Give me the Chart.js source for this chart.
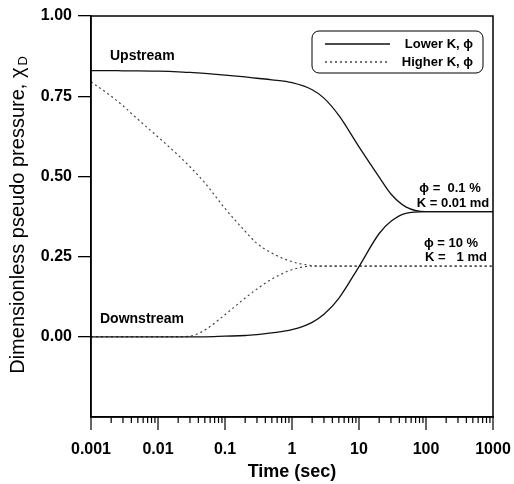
<!DOCTYPE html>
<html>
<head>
<meta charset="utf-8">
<script src="https://cdn.jsdelivr.net/npm/chart.js@4.4.1/dist/chart.umd.min.js"></script>
<style>
body{margin:0;background:#fff;}
#wrap{width:514px;height:484px;}
</style>
</head>
<body>
<div id="wrap"><canvas id="PresionChart" width="514" height="484"></canvas></div>
<script>
// tiempos (sec)
const tiempos = [0.001,0.002,0.003,0.005,0.01,0.02,0.03,0.05,0.1,0.2,0.3,0.5,1,2,3,5,10,20,30,50,100,200,500,1000];

// K y porosidad bajos (linea continua)
const arribaBajo = [0.83,0.83,0.829,0.829,0.828,0.826,0.824,0.821,0.816,0.81,0.806,0.801,0.792,0.77,0.744,0.69,0.592,0.498,0.445,0.405,0.39,0.39,0.39,0.39];
const abajoBajo  = [0,0,0,0,0,0,0,0,0.002,0.004,0.007,0.012,0.022,0.045,0.07,0.12,0.219,0.322,0.36,0.385,0.39,0.39,0.39,0.39];

// K y porosidad altos (linea punteada)
const arribaAlto = [0.795,0.75,0.72,0.678,0.623,0.566,0.53,0.48,0.40,0.329,0.291,0.261,0.234,0.222,0.22,0.22,0.22,0.22,0.22,0.22,0.22,0.22,0.22,0.22];
const abajoAlto  = [0,0,0,0,0,0,0.002,0.021,0.069,0.121,0.149,0.18,0.209,0.22,0.22,0.22,0.22,0.22,0.22,0.22,0.22,0.22,0.22,0.22];

const decadas = [0.001,0.01,0.1,1,10,100,1000];
const etiquetasX = ['0.001','0.01','0.1','1','10','100','1000'];
const marcasY = [0,0.25,0.5,0.75,1];

const fuente = "'Liberation Sans', Arial, sans-serif";

function puntos(xs, ys){
    return xs.map((x,i)=>({x:x, y:ys[i]}));
}

const lineaSolida = {borderColor:'#111', borderWidth:1.3, pointRadius:0, cubicInterpolationMode:'monotone', fill:false};
const lineaPuntos = {borderColor:'#444', borderWidth:1.2, borderDash:[2,3], pointRadius:0, cubicInterpolationMode:'monotone', fill:false};

const extras = {
    id:'extras',
    afterDraw(chart){
        const c = chart.ctx;
        const a = chart.chartArea;
        const sx = chart.scales.x;
        c.save();
        c.strokeStyle = '#000';
        c.lineWidth = 1.5;
        c.strokeRect(a.left, a.top, a.right-a.left, a.bottom-a.top);

        // marcas del eje x
        c.lineWidth = 1.2;
        c.beginPath();
        decadas.forEach((d,i)=>{
            const px = sx.getPixelForValue(d);
            c.moveTo(px, a.bottom); c.lineTo(px, a.bottom+13);
            if(i < decadas.length-1){
                for(let m=2;m<10;m++){
                    const p = sx.getPixelForValue(m*d);
                    c.moveTo(p, a.bottom); c.lineTo(p, a.bottom+6);
                }
            }
        });
        c.stroke();

        // leyenda
        c.lineWidth = 1;
        c.beginPath();
        c.roundRect(312, 31, 171, 42, 7);
        c.stroke();
        c.lineWidth = 1.3;
        c.strokeStyle = '#111';
        c.beginPath(); c.moveTo(325,44); c.lineTo(390,44); c.stroke();
        c.strokeStyle = '#444';
        c.setLineDash([2,3]);
        c.beginPath(); c.moveTo(325,62); c.lineTo(390,62); c.stroke();
        c.setLineDash([]);
        c.fillStyle = '#000';
        c.font = 'bold 13px ' + fuente;
        c.textAlign = 'right';
        c.textBaseline = 'middle';
        c.fillText('Lower K, \u03d5', 473, 44);
        c.fillText('Higher K, \u03d5', 473, 62);

        // textos
        c.textAlign = 'left';
        c.font = 'bold 14px ' + fuente;
        c.fillText('Upstream', 110, 56);
        c.fillText('Downstream', 100, 319);
        c.textAlign = 'center';
        c.font = 'bold 13px ' + fuente;
        c.fillText('\u03d5 =  0.1 %', 450, 188);
        c.fillText('K = 0.01 md', 453, 203);
        c.fillText('\u03d5 = 10 %', 451, 243);
        c.fillText('K =   1 md', 456, 257);

        // titulo eje y
        c.translate(18, 215);
        c.rotate(-Math.PI/2);
        c.font = '20px ' + fuente;
        const t1 = 'Dimensionless pseudo pressure, \u03c7';
        const w1 = c.measureText(t1).width;
        c.font = '13px ' + fuente;
        const w2 = c.measureText('D').width;
        const x0 = -(w1 + w2 + 2)/2;
        c.textAlign = 'left';
        c.font = '20px ' + fuente;
        c.fillText(t1, x0, 0);
        c.font = '13px ' + fuente;
        c.fillText('D', x0 + w1 + 2, 5);
        c.restore();
    }
};

const ctx = document.getElementById('PresionChart').getContext('2d');

const chart = new Chart(ctx,{
    type:'line',
    data:{
        datasets:[
            Object.assign({label:'Upstream lower', data:puntos(tiempos, arribaBajo)}, lineaSolida),
            Object.assign({label:'Downstream lower', data:puntos(tiempos, abajoBajo)}, lineaSolida),
            Object.assign({label:'Upstream higher', data:puntos(tiempos, arribaAlto)}, lineaPuntos),
            Object.assign({label:'Downstream higher', data:puntos(tiempos, abajoAlto)}, lineaPuntos)
        ]
    },
    options:{
        responsive:false,
        animation:false,
        layout:{padding:{top:16, right:21, bottom:0, left:0}},
        plugins:{
            legend:{display:false},
            tooltip:{enabled:false}
        },
        scales:{
            x:{
                type:'logarithmic',
                min:0.001,
                max:1000,
                afterBuildTicks:(s)=>{ s.ticks = decadas.map(v=>({value:v})); },
                afterFit:(s)=>{ s.height = 67; s.paddingLeft = 0; s.paddingRight = 0; },
                ticks:{
                    autoSkip:false,
                    maxRotation:0,
                    padding:10,
                    color:'#000',
                    font:{family:fuente, size:16, weight:'bold'},
                    callback:(v,i)=>etiquetasX[i]
                },
                grid:{display:false, tickLength:13},
                border:{display:true, color:'#000', width:1.5},
                title:{
                    display:true,
                    text:'Time (sec)',
                    color:'#000',
                    font:{family:fuente, size:18, weight:'bold'},
                    padding:{top:0, bottom:1}
                }
            },
            y:{
                min:-0.25,
                max:1,
                afterBuildTicks:(s)=>{ s.ticks = marcasY.map(v=>({value:v})); },
                afterFit:(s)=>{ s.width = 91; },
                ticks:{
                    padding:6,
                    color:'#000',
                    font:{family:fuente, size:16, weight:'bold'},
                    callback:(v)=>Number(v).toFixed(2)
                },
                grid:{drawOnChartArea:false, drawTicks:true, tickLength:13, color:'#000', lineWidth:1.3},
                border:{display:true, color:'#000', width:1.5}
            }
        }
    },
    plugins:[extras]
});
</script>
</body>
</html>
